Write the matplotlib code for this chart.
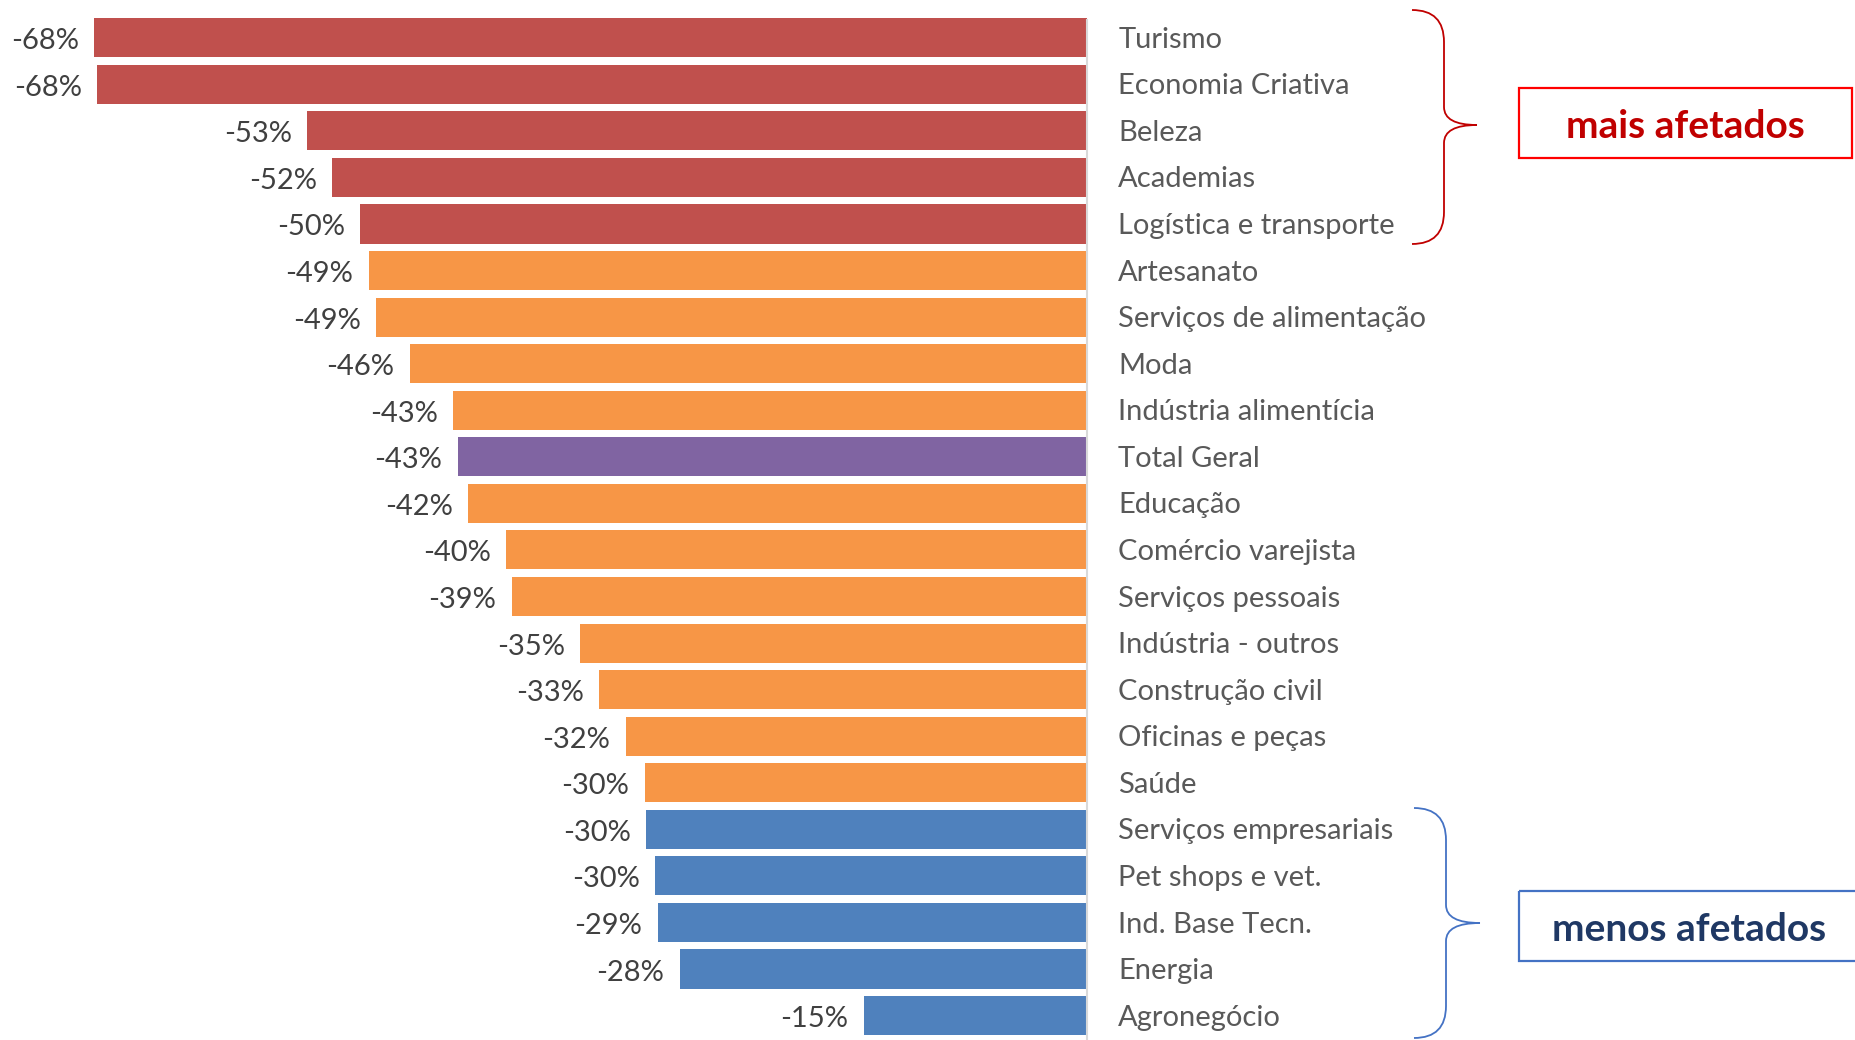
import matplotlib
matplotlib.use("Agg")
import matplotlib.pyplot as plt
from matplotlib.path import Path
from matplotlib.patches import PathPatch, Rectangle

categories = ["Turismo", "Economia Criativa", "Beleza", "Academias",
              "Logística e transporte", "Artesanato", "Serviços de alimentação",
              "Moda", "Indústria alimentícia", "Total Geral", "Educação",
              "Comércio varejista", "Serviços pessoais", "Indústria - outros",
              "Construção civil", "Oficinas e peças", "Saúde",
              "Serviços empresariais", "Pet shops e vet.", "Ind. Base Tecn.",
              "Energia", "Agronegócio"]
values = [-0.680, -0.678, -0.534, -0.517, -0.498, -0.492, -0.487, -0.464,
          -0.434, -0.431, -0.424, -0.398, -0.394, -0.347, -0.334, -0.316,
          -0.303, -0.302, -0.296, -0.294, -0.279, -0.153]
groups = ["mais"] * 5 + ["medio"] * 4 + ["total"] + ["medio"] * 7 + ["menos"] * 5

group_colors = {"mais": "#C0504D", "medio": "#F79646",
                "total": "#8064A2", "menos": "#4F81BD"}

W, H = 1856, 1040
fig = plt.figure(figsize=(W / 100, H / 100), dpi=100)
font = "Lato"

zero_px = 1087
top_px, bot_px = 14.4, 1038.9
ax = fig.add_axes([0, 1 - bot_px / H, zero_px / W, (bot_px - top_px) / H])
n = len(categories)
ypos = list(range(n))
ax.barh(ypos, values, height=0.84,
        color=[group_colors[g] for g in groups], edgecolor="none")
ax.set_xlim(-zero_px / 14.6 / 100, 0)
ax.set_ylim(n - 0.5, -0.5)
ax.axis("off")
ax.axvline(0, color="#D9D9D9", lw=1.5, ymin=0, ymax=0.995, clip_on=False)

for y, v, c in zip(ypos, values, categories):
    ax.annotate(f"{v * 100:.0f}%", xy=(v, y), xytext=(-11, -2.5),
                textcoords="offset points", ha="right", va="center",
                fontsize=21, color="#404040", family=font)
    ax.annotate(c, xy=(0, y), xytext=(22.5, -1.5), textcoords="offset points",
                ha="left", va="center", fontsize=21, color="#595959",
                family=font, annotation_clip=False)

# overlay in pixel coordinates for braces and boxes
ov = fig.add_axes([0, 0, 1, 1])
ov.set_xlim(0, W)
ov.set_ylim(H, 0)
ov.axis("off")


def brace(x0, xv, xt, ytop, ytip, ybot, color):
    r = 32
    verts = [(x0, ytop), (xv, ytop), (xv, ytop + r),
             (xv, ytip - 18), (xv, ytip), (xt, ytip),
             (xv, ytip), (xv, ytip + 18),
             (xv, ybot - r), (xv, ybot), (x0, ybot)]
    codes = [Path.MOVETO, Path.CURVE3, Path.CURVE3,
             Path.LINETO, Path.CURVE3, Path.CURVE3,
             Path.CURVE3, Path.CURVE3,
             Path.LINETO, Path.CURVE3, Path.CURVE3]
    ov.add_patch(PathPatch(Path(verts, codes), fill=False, edgecolor=color,
                           lw=1.3))


brace(1412, 1444, 1477, 10, 125, 244, "#C00000")
brace(1414, 1446, 1480, 808, 923, 1038, "#4472C4")

ov.add_patch(Rectangle((1519, 88), 333, 70, fill=False, edgecolor="#FF0000",
                       lw=1.6))
ov.text(1685, 126.5, "mais afetados", ha="center", va="center", fontsize=28,
        fontweight="bold", color="#C00000", family=font)

ov.add_patch(Rectangle((1519, 891), 345, 70, fill=False, edgecolor="#4472C4",
                       lw=1.6, clip_on=True))
ov.text(1689, 929.5, "menos afetados", ha="center", va="center", fontsize=28,
        fontweight="bold", color="#1F3864", family=font)

fig.savefig("out.png", dpi=100, facecolor="white")
